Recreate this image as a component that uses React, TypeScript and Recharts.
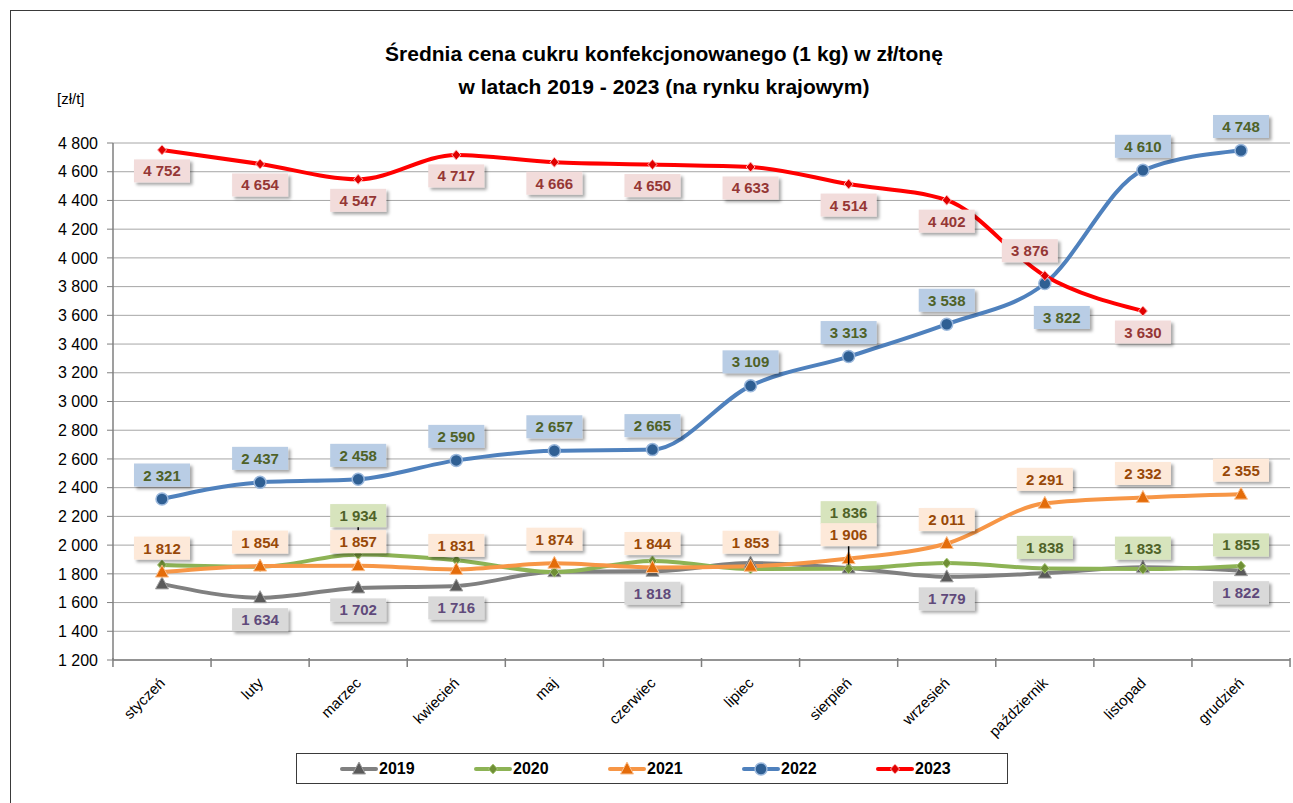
import { LineChart, Line, XAxis, YAxis, CartesianGrid, Legend, LabelList } from "recharts";

const months = ["styczeń", "luty", "marzec", "kwiecień", "maj", "czerwiec", "lipiec", "sierpień", "wrzesień", "październik", "listopad", "grudzień"];
const v2019 = [1730, 1634, 1702, 1716, 1815, 1818, 1875, 1840, 1779, 1805, 1845, 1822];
const v2020 = [1862, 1850, 1934, 1895, 1812, 1890, 1834, 1836, 1875, 1838, 1833, 1855];
const v2021 = [1812, 1854, 1857, 1831, 1874, 1844, 1853, 1906, 2011, 2291, 2332, 2355];
const v2022 = [2321, 2437, 2458, 2590, 2657, 2665, 3109, 3313, 3538, 3822, 4610, 4748];
const v2023 = [4752, 4654, 4547, 4717, 4666, 4650, 4633, 4514, 4402, 3876, 3630, null];
const yTicks = [1200, 1400, 1600, 1800, 2000, 2200, 2400, 2600, 2800, 3000, 3200, 3400, 3600, 3800, 4000, 4200, 4400, 4600, 4800];

const data = months.map((m, i) => ({
  m,
  y2019: v2019[i],
  y2020: v2020[i],
  y2021: v2021[i],
  y2022: v2022[i],
  y2023: v2023[i],
}));

const fmt = (n: number) => String(n).replace(/\B(?=(\d{3})+(?!\d))/g, " ");

type Cfg = {
  key: string;
  name: string;
  stroke: string;
  shape: "tri" | "dia" | "circle";
  dotFill: string;
  dotStroke: string;
  boxFill: string;
  textFill: string;
  show: number[];
  dy: number;
  special?: Record<number, [number, number]>;
  leader?: number[];
};

const series: Cfg[] = [
  {
    key: "y2019", name: "2019", stroke: "#808080", shape: "tri", dotFill: "#5a5a5a", dotStroke: "#a0a0a0",
    boxFill: "#d9d9d9", textFill: "#604a7b", show: [1, 2, 3, 5, 8, 11], dy: 22,
  },
  {
    key: "y2020", name: "2020", stroke: "#8db355", shape: "dia", dotFill: "#6f8f35", dotStroke: "#a9c97a",
    boxFill: "#d7e4bd", textFill: "#4f6228", show: [2, 7, 9, 10, 11], dy: -21,
    special: { 2: [0, -39], 7: [0, -56] }, leader: [2, 7],
  },
  {
    key: "y2021", name: "2021", stroke: "#f79646", shape: "tri", dotFill: "#e46c0a", dotStroke: "#fbc08f",
    boxFill: "#fde9d9", textFill: "#984807", show: [0, 1, 2, 3, 4, 5, 6, 7, 8, 9, 10, 11], dy: -24,
  },
  {
    key: "y2022", name: "2022", stroke: "#4f81bd", shape: "circle", dotFill: "#2f5f93", dotStroke: "#9bb8dc",
    boxFill: "#b9cde5", textFill: "#4f6228", show: [0, 1, 2, 3, 4, 5, 6, 7, 8, 9, 10, 11], dy: -24,
    special: { 9: [17, 34] },
  },
  {
    key: "y2023", name: "2023", stroke: "#ff0000", shape: "dia", dotFill: "#e00000", dotStroke: "#ffb3b3",
    boxFill: "#f2dcdb", textFill: "#953735", show: [0, 1, 2, 3, 4, 5, 6, 7, 8, 9, 10], dy: 21,
    special: { 9: [-15, -25] },
  },
];

function Marker({ shape, cx, cy, fill, stroke }: any) {
  if (cx == null || cy == null || isNaN(cy)) return null;
  if (shape === "circle") return <circle cx={cx} cy={cy} r={6} fill={fill} stroke={stroke} strokeWidth={1.5} />;
  if (shape === "tri")
    return <polygon points={`${cx},${cy - 7} ${cx + 6.5},${cy + 5} ${cx - 6.5},${cy + 5}`} fill={fill} stroke={stroke} strokeWidth={1} />;
  return <polygon points={`${cx},${cy - 5} ${cx + 4.5},${cy} ${cx},${cy + 5} ${cx - 4.5},${cy}`} fill={fill} stroke={stroke} strokeWidth={1} />;
}

function makeLabel(s: Cfg) {
  return (p: any) => {
    const { x, y, value, index } = p;
    if (value == null || !s.show.includes(index)) return null;
    const [dx, dy] = s.special?.[index] ?? [0, s.dy];
    const cx = x + dx;
    const cy = y + dy;
    const w = 56;
    const h = 23;
    return (
      <g key={`${s.key}-${index}`}>
        {s.leader?.includes(index) && <line x1={cx} x2={x} y1={cy + h / 2} y2={y - 4} stroke="#000" strokeWidth={1.5} />}
        <rect x={cx - w / 2} y={cy - h / 2} width={w} height={h} fill={s.boxFill} filter="url(#lblShadow)" />
        <text x={cx} y={cy + 5.5} textAnchor="middle" fontFamily="'Liberation Sans', Arial, sans-serif" fontWeight="bold" fontSize={15} fill={s.textFill}>
          {fmt(value)}
        </text>
      </g>
    );
  };
}

function MonthTick({ x, y, payload, index }: any) {
  const band = 98.08;
  return (
    <g>
      <line x1={x - band / 2} x2={x - band / 2} y1={y - 2} y2={y + 7} stroke="#7f7f7f" strokeWidth={1.5} />
      {index === months.length - 1 && <line x1={x + band / 2} x2={x + band / 2} y1={y - 2} y2={y + 7} stroke="#7f7f7f" strokeWidth={1.5} />}
      <text x={x + 4} y={y + 24} textAnchor="end" fontSize={15} fill="#000" transform={`rotate(-45, ${x + 4}, ${y + 24})`}>
        {payload.value}
      </text>
    </g>
  );
}

function LegendBox() {
  return (
    <div style={{ display: "flex", justifyContent: "center", alignItems: "center", height: "100%", gap: 36, paddingLeft: 8 }}>
      {series.map((s) => (
        <div key={s.key} style={{ display: "flex", alignItems: "center" }}>
          <svg width={40} height={16}>
            <line x1={3} x2={37} y1={8} y2={8} stroke={s.stroke} strokeWidth={4} strokeLinecap="round" />
            <Marker shape={s.shape} cx={20} cy={8} fill={s.dotFill} stroke={s.dotStroke} />
          </svg>
          <span style={{ fontWeight: "bold", fontSize: 16, fontFamily: "'Liberation Sans', Arial, sans-serif", color: "#000", width: 58 }}>{s.name}</span>
        </div>
      ))}
    </div>
  );
}

export default function App() {
  return (
    <div style={{ position: "relative", width: 1293, height: 803, overflow: "hidden", background: "#fff", fontFamily: "'Liberation Sans', Arial, sans-serif" }}>
      <style>{`body{margin:0}`}</style>
      <svg width={0} height={0} style={{ position: "absolute" }}>
        <defs>
          <filter id="lblShadow" x="-20%" y="-30%" width="150%" height="180%">
            <feDropShadow dx={2.5} dy={2.5} stdDeviation={1.5} floodColor="#000" floodOpacity={0.35} />
          </filter>
        </defs>
      </svg>
      <div style={{ position: "absolute", left: 10, top: 10, width: 1300, height: 800, border: "1.5px solid #3a3a3a" }} />
      <div style={{ position: "absolute", left: 214, width: 900, top: 37, textAlign: "center", fontWeight: "bold", fontSize: 21, lineHeight: "33px", color: "#000" }}>
        Średnia cena cukru konfekcjonowanego (1 kg) w zł/tonę
        <br />
        w latach 2019 - 2023 (na rynku krajowym)
      </div>
      <div style={{ position: "absolute", left: 57, top: 90, fontSize: 15, color: "#000" }}>[zł/t]</div>
      <LineChart width={1293} height={803} data={data} margin={{ top: 143, right: 3, left: 0, bottom: 0 }} style={{ position: "absolute", left: 0, top: 0 }}>
        <CartesianGrid vertical={false} stroke="#a6a6a6" strokeWidth={1} />
        <XAxis
          dataKey="m"
          height={143}
          interval={0}
          padding={{ left: 49, right: 49 }}
          tickSize={0}
          tickMargin={0}
          tickLine={false}
          axisLine={{ stroke: "#7f7f7f", strokeWidth: 1.5 }}
          tick={<MonthTick />}
        />
        <YAxis
          domain={[1200, 4800]}
          ticks={yTicks}
          width={113}
          tickSize={6}
          tickMargin={9}
          tickFormatter={fmt}
          axisLine={{ stroke: "#7f7f7f", strokeWidth: 1.5 }}
          tickLine={{ stroke: "#7f7f7f" }}
          tick={{ fontSize: 16, fill: "#000" }}
          allowDataOverflow
        />
        <Legend
          layout="horizontal"
          verticalAlign="middle"
          align="center"
          content={<LegendBox />}
          wrapperStyle={{ left: 296, top: 753, width: 712, height: 31, border: "1.5px solid #3a3a3a", background: "#fff", boxSizing: "border-box" }}
        />
        {series.map((s) => (
          <Line
            key={s.key}
            dataKey={s.key}
            name={s.name}
            type="monotone"
            stroke={s.stroke}
            strokeWidth={4}
            isAnimationActive={false}
            connectNulls={false}
            dot={(p: any) => <Marker key={`${s.key}-d-${p.index}`} shape={s.shape} cx={p.cx} cy={p.cy} fill={s.dotFill} stroke={s.dotStroke} />}
            activeDot={false}
          >
            <LabelList dataKey={s.key} content={makeLabel(s)} />
          </Line>
        ))}
      </LineChart>
    </div>
  );
}
